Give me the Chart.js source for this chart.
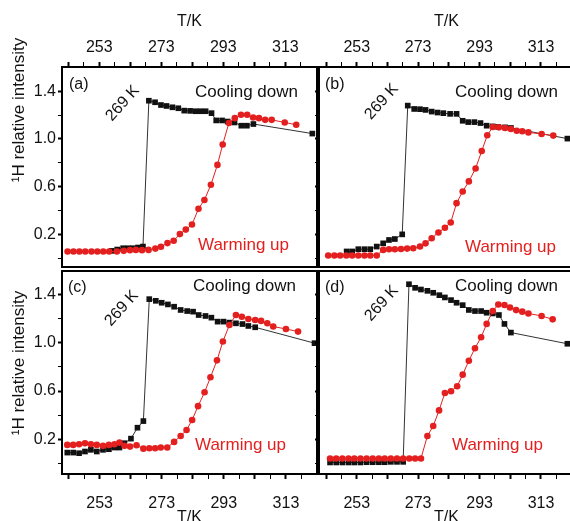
<!DOCTYPE html>
<html>
<head>
<meta charset="utf-8">
<script src="https://cdn.jsdelivr.net/npm/chart.js@4.4.0/dist/chart.umd.min.js"></script>
<style>
html,body{margin:0;padding:0;background:#fff;overflow:hidden;}
body{width:570px;height:521px;position:relative;}
canvas{position:absolute;}
</style>
</head>
<body>
<canvas id="ca" width="321" height="271" style="left:0;top:0;width:321px;height:271px"></canvas>
<canvas id="cb" width="265" height="271" style="left:313px;top:0;width:265px;height:271px"></canvas>
<canvas id="cc" width="321" height="265" style="left:0;top:267px;width:321px;height:265px"></canvas>
<canvas id="cd" width="265" height="265" style="left:313px;top:267px;width:265px;height:265px"></canvas>
<script>
// ---- tick positions / labels ----
const xTicks = [243,248,253,258,263,268,273,278,283,288,293,298,303,308,313,318];
const xMajorTicks = [243,253,263,273,283,293,303,313];
const xLabelTicks = [253,273,293,313];
const yTicks = [0,0.2,0.4,0.6,0.8,1.0,1.2,1.4];
const yLabelTicks = [0.2,0.6,1.0,1.4];
const xTitle = 'T/K';
const yTitle = '\u00B9H relative intensity';
const coolLabel = 'Cooling down';
const warmLabel = 'Warming up';
const jumpLabel = '269 K';
const panelLetters = ['(a)','(b)','(c)','(d)'];

// ---- panel (a) ----
const aWarmT = [242.8,244.7,246.6,248.5,250.5,252.4,254.3,256.2,258.7,260.9,262.9,264.8,266.8,268.9,271.1,272.9,275.0,277.0,279.0,280.9,282.9,285.0,286.9,289.0,291.1,292.8,294.8,296.7,298.7,300.7,302.6,304.5,306.5,308.6,312.8,316.5];
const aWarmV = [0.059,0.059,0.059,0.059,0.059,0.059,0.059,0.059,0.059,0.064,0.070,0.072,0.070,0.072,0.083,0.099,0.129,0.149,0.204,0.242,0.284,0.416,0.490,0.617,0.783,0.954,1.133,1.174,1.202,1.202,1.180,1.174,1.160,1.160,1.138,1.119];
const aCoolT = [257.0,258.8,260.7,262.3,263.9,265.5,267.1,269.0,271.0,272.9,274.7,276.6,278.5,280.4,282.3,284.1,285.7,287.3,289.2,290.7,292.6,294.4,296.6,298.8,300.6,302.7,321.7];
const aCoolV = [0.064,0.075,0.086,0.086,0.086,0.092,0.100,1.320,1.307,1.284,1.276,1.265,1.257,1.237,1.235,1.232,1.232,1.232,1.216,1.155,1.155,1.146,1.138,1.111,1.111,1.125,1.045];

// ---- panel (b) ----
const bWarmT = [243.7,245.7,247.6,249.6,251.5,253.5,255.5,257.4,259.5,261.6,263.5,265.4,267.4,269.4,271.4,273.6,275.4,277.4,279.6,281.7,283.6,285.5,287.5,289.5,291.7,293.7,295.5,297.3,299.3,301.3,303.2,305.1,306.9,308.9,313.2,317.0];
const bWarmV = [0.025,0.025,0.025,0.025,0.025,0.025,0.025,0.025,0.025,0.072,0.078,0.078,0.080,0.083,0.086,0.100,0.127,0.169,0.218,0.257,0.301,0.463,0.560,0.645,0.753,0.899,1.031,1.100,1.097,1.092,1.083,1.069,1.064,1.055,1.042,1.028];
const bCoolT = [249.7,251.5,253.5,255.5,257.4,259.5,261.6,263.5,265.4,267.8,269.6,271.7,273.6,275.4,277.4,279.3,281.2,283.4,285.5,287.5,289.3,291.3,293.3,295.3,297.3,299.1,301.3,303.2,321.6];
const bCoolV = [0.059,0.059,0.078,0.078,0.078,0.100,0.127,0.155,0.163,0.202,1.279,1.251,1.249,1.243,1.229,1.221,1.216,1.210,1.210,1.152,1.141,1.141,1.133,1.111,1.105,1.100,1.097,1.092,1.003];

// ---- panel (c) ----
const cWarmT = [242.6,244.5,246.4,248.3,250.2,252.1,254.1,256.0,257.8,259.4,261.0,262.8,264.9,267.1,269.0,270.9,272.7,274.8,277.0,279.1,281.0,282.8,284.7,286.8,288.7,290.8,292.7,294.8,296.9,298.8,300.9,303.1,305.0,307.0,308.9,313.0,316.9];
const cWarmV = [0.152,0.152,0.158,0.166,0.158,0.152,0.144,0.152,0.158,0.171,0.144,0.138,0.149,0.121,0.124,0.124,0.130,0.130,0.177,0.226,0.276,0.359,0.474,0.590,0.714,0.855,1.012,1.149,1.232,1.218,1.199,1.191,1.183,1.163,1.136,1.116,1.094];
const cCoolT = [242.6,244.5,246.4,248.3,250.2,252.1,254.1,256.0,257.8,259.4,261.0,263.1,265.2,267.1,269.0,271.1,273.0,275.0,277.0,279.1,281.2,283.1,284.9,287.1,289.0,291.0,292.9,294.8,296.9,299.0,300.9,303.1,322.2];
const cCoolV = [0.088,0.088,0.083,0.097,0.111,0.097,0.111,0.116,0.130,0.130,0.166,0.204,0.295,0.350,1.364,1.350,1.334,1.320,1.301,1.274,1.265,1.260,1.232,1.224,1.210,1.177,1.177,1.169,1.163,1.157,1.141,1.130,0.998];

// ---- panel (d) ----
const dWarmT = [244.3,246.3,248.3,250.3,252.2,254.2,256.2,258.2,260.2,262.1,264.1,266.1,268.1,270.1,272.0,273.9,276.0,277.9,279.8,281.7,283.7,285.7,287.5,289.5,291.5,293.5,295.3,297.3,299.1,301.1,302.9,304.9,306.9,308.9,313.2,316.8];
const dWarmV = [0.039,0.039,0.039,0.039,0.039,0.039,0.039,0.039,0.039,0.039,0.039,0.039,0.039,0.039,0.039,0.039,0.226,0.309,0.439,0.584,0.598,0.640,0.736,0.852,0.956,1.047,1.158,1.265,1.320,1.315,1.295,1.273,1.260,1.245,1.224,1.196];
const dCoolT = [244.3,246.3,248.3,250.3,252.2,254.2,256.2,258.2,260.2,262.1,264.1,266.1,268.1,270.0,272.0,273.9,276.0,277.9,279.9,281.7,283.7,285.5,287.5,289.5,291.5,293.5,295.3,297.3,299.3,301.1,303.2,321.6];
const dCoolV = [0.006,0.006,0.006,0.006,0.006,0.006,0.008,0.008,0.008,0.008,0.011,0.011,0.011,1.488,1.458,1.444,1.433,1.417,1.397,1.378,1.356,1.334,1.314,1.274,1.265,1.265,1.251,1.245,1.232,1.158,1.086,0.993];

// ---- styling / layout ----
const FONT = '"Liberation Sans", Arial, Helvetica, sans-serif';
const RED = '#e3201f';
const BLK = '#111111';
Chart.defaults.font.family = FONT;
Chart.defaults.color = BLK;

const near = (a,b) => Math.abs(a-b) < 1e-6;
const has = (arr,v) => arr.some(a => near(a,v));
const pts = (T,V) => T.map((t,i) => ({x:t, y:V[i]}));

const panels = [
  {id:'ca', off:[0,0], letter:panelLetters[0], warm:[aWarmT,aWarmV], cool:[aCoolT,aCoolV], xPos:'top', yLabels:true,
   xMin:241.0, xMax:323.2, yMin:-0.071, yMax:1.602, pad:{left:0,top:0,right:2,bottom:2}, xAxisH:67, yAxisW:62,
   notes:{letter:[69,85], cool:[195,92], warm:[198,245], jump:[122.7,103.3]}, yTitleAt:[19,110]},
  {id:'cb', off:[313,0], letter:panelLetters[1], warm:[bWarmT,bWarmV], cool:[bCoolT,bCoolV], xPos:'top', yLabels:false,
   xMin:240.7, xMax:323.75, yMin:-0.071, yMax:1.602, pad:{left:0,top:0,right:4,bottom:2}, xAxisH:67, yAxisW:6,
   notes:{letter:[325,85], cool:[455,92], warm:[465,247], jump:[381.7,101.7]}},
  {id:'cc', off:[0,267], letter:panelLetters[2], warm:[cWarmT,cWarmV], cool:[cCoolT,cCoolV], xPos:'bottom', yLabels:true,
   xMin:240.9, xMax:323.0, yMin:-0.09, yMax:1.598, pad:{left:0,top:2,right:2,bottom:0}, xAxisH:58, yAxisW:62,
   notes:{letter:[68,288], cool:[193,286], warm:[195,445], jump:[121.7,308.3]}, yTitleAt:[19,363]},
  {id:'cd', off:[313,267], letter:panelLetters[3], warm:[dWarmT,dWarmV], cool:[dCoolT,dCoolV], xPos:'bottom', yLabels:false,
   xMin:240.7, xMax:323.75, yMin:-0.09, yMax:1.598, pad:{left:0,top:2,right:4,bottom:0}, xAxisH:58, yAxisW:6,
   notes:{letter:[325,288], cool:[455,286], warm:[452,445], jump:[381.7,303.3]}}
];

const framePlugin = {
  id:'frame',
  afterDraw(chart){
    const {ctx, chartArea:a} = chart;
    ctx.save();
    ctx.strokeStyle = '#000';
    ctx.lineWidth = 2;
    ctx.strokeRect(a.left, a.top, a.right - a.left, a.bottom - a.top);
    ctx.restore();
  }
};

function notesPlugin(p){
  return {
    id:'notes',
    afterDraw(chart){
      const ctx = chart.ctx;
      const [ox, oy] = p.off;
      const n = p.notes;
      ctx.save();
      ctx.textBaseline = 'middle';
      ctx.textAlign = 'left';
      ctx.fillStyle = BLK;
      ctx.font = '16px ' + FONT;
      ctx.fillText(p.letter, n.letter[0]-ox, n.letter[1]-oy);
      ctx.font = '17px ' + FONT;
      ctx.fillText(coolLabel, n.cool[0]-ox, n.cool[1]-oy);
      ctx.fillStyle = RED;
      ctx.fillText(warmLabel, n.warm[0]-ox, n.warm[1]-oy);
      ctx.restore();

      ctx.save();
      ctx.fillStyle = BLK;
      ctx.font = '16px ' + FONT;
      ctx.textAlign = 'center';
      ctx.textBaseline = 'middle';
      ctx.translate(n.jump[0]-ox, n.jump[1]-oy);
      ctx.rotate(-48*Math.PI/180);
      ctx.fillText(jumpLabel, 0, 0);
      ctx.restore();

      if (p.yTitleAt){
        ctx.save();
        ctx.fillStyle = BLK;
        ctx.font = '17px ' + FONT;
        ctx.textAlign = 'center';
        ctx.textBaseline = 'middle';
        ctx.translate(p.yTitleAt[0]-ox, p.yTitleAt[1]-oy);
        ctx.rotate(-Math.PI/2);
        ctx.fillText(yTitle, 0, 0);
        ctx.restore();
      }
    }
  };
}

panels.forEach(p => {
  const isTop = p.xPos === 'top';
  new Chart(document.getElementById(p.id), {
    type:'line',
    data:{
      datasets:[
        {data:pts(p.warm[0],p.warm[1]), borderColor:RED, backgroundColor:RED,
         pointBackgroundColor:RED, pointBorderColor:RED, borderWidth:1,
         pointStyle:'circle', pointRadius:3.3, pointBorderWidth:0, tension:0},
        {data:pts(p.cool[0],p.cool[1]), borderColor:'#333', backgroundColor:BLK,
         pointBackgroundColor:BLK, pointBorderColor:BLK, borderWidth:1,
         pointStyle:'rect', pointRadius:4, pointBorderWidth:0, tension:0}
      ]
    },
    options:{
      responsive:false,
      animation:false,
      events:[],
      layout:{padding:p.pad},
      plugins:{legend:{display:false}, tooltip:{enabled:false}},
      scales:{
        x:{
          type:'linear', position:p.xPos, min:p.xMin, max:p.xMax,
          afterBuildTicks:s => { s.ticks = xTicks.map(v => ({value:v})); },
          afterFit:s => { s.height = p.xAxisH; s.paddingLeft = 0; s.paddingRight = 0; },
          border:{display:false},
          grid:{drawOnChartArea:false, drawTicks:true, tickLength:5, tickColor:'#000',
                tickWidth:c => (c.tick && has(xMajorTicks, c.tick.value)) ? 2 : 1},
          ticks:{autoSkip:false, maxRotation:0, minRotation:0, padding:isTop ? 5 : 15, color:BLK,
                 font:{size:16, family:FONT},
                 callback:v => has(xLabelTicks, v) ? String(Math.round(v)) : ''},
          title:{display:true, text:xTitle, color:BLK, font:{size:16, family:FONT},
                 padding:isTop ? {top:12, bottom:0} : {top:0, bottom:5}}
        },
        y:{
          type:'linear', position:'left', min:p.yMin, max:p.yMax,
          afterBuildTicks:s => { s.ticks = yTicks.map(v => ({value:v})); },
          afterFit:s => { s.width = p.yAxisW; s.paddingTop = 0; s.paddingBottom = 0; },
          border:{display:false},
          grid:{drawOnChartArea:false, drawTicks:true, tickLength:4, tickColor:'#000',
                tickWidth:c => (c.tick && has(yLabelTicks, c.tick.value)) ? 2 : 1},
          ticks:{autoSkip:false, padding:2, color:BLK, font:{size:16, family:FONT},
                 callback:v => (p.yLabels && has(yLabelTicks, v)) ? v.toFixed(1) : ''}
        }
      }
    },
    plugins:[framePlugin, notesPlugin(p)]
  });
});
</script>
</body>
</html>
